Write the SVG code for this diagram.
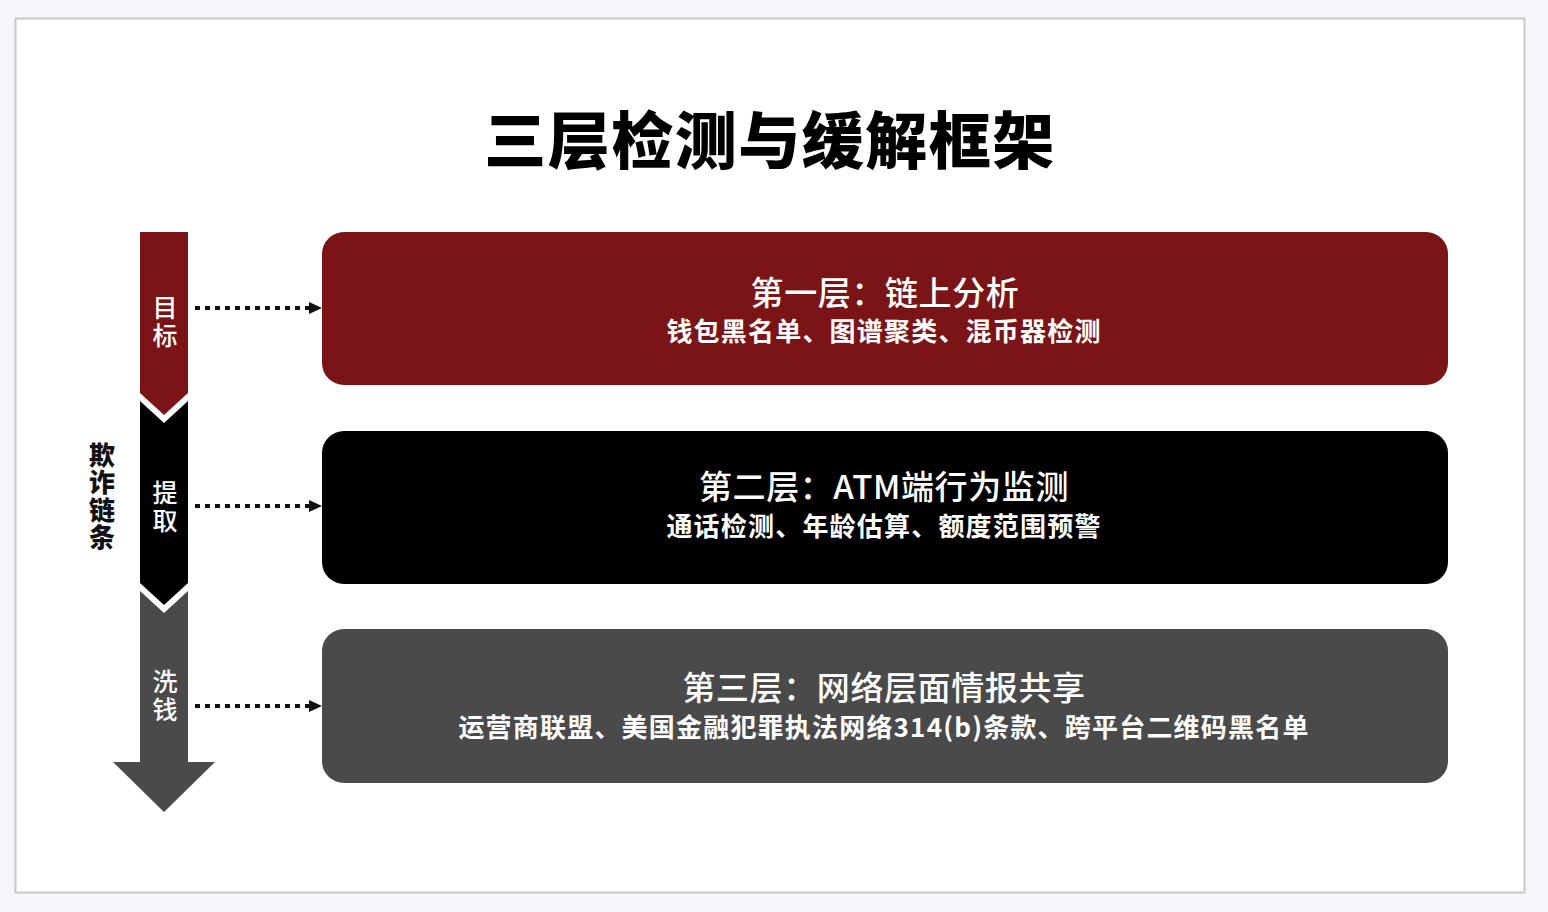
<svg xmlns="http://www.w3.org/2000/svg" width="1548" height="912" viewBox="0 0 1548 912">
  <defs>
    <style>
      .cjk { font-family: "Noto Sans CJK SC", "Noto Sans", "Liberation Sans", sans-serif; }
      .title { font-size: 62px; font-weight: 900; fill: #000; letter-spacing: 1.5px; }
      .head { font-size: 33px; font-weight: 500; fill: #fff; letter-spacing: 0.6px; }
      .sub { font-size: 26px; font-weight: 700; fill: #fff; letter-spacing: 1.2px; }
      .vert { writing-mode: vertical-rl; text-orientation: upright; }
      .stage { font-size: 25px; font-weight: 500; fill: #fff; letter-spacing: 3px; }
      .side { font-size: 26px; font-weight: 900; fill: #111; letter-spacing: 1.5px; }
      .dots { stroke: #111; stroke-width: 4; stroke-dasharray: 5 5; fill: none; }
    </style>
    <marker id="ah" markerUnits="userSpaceOnUse" markerWidth="13" markerHeight="12" refX="0" refY="6" orient="auto">
      <path d="M0,0 L13,6 L0,12 z" fill="#111"/>
    </marker>
  </defs>

  <rect x="0" y="0" width="1548" height="912" fill="#f5f6fa"/>
  <rect x="15.5" y="18.5" width="1509" height="874" fill="#ffffff" stroke="#c8c8c8" stroke-width="2"/>

  <text class="cjk title" x="770" y="137" text-anchor="middle" dominant-baseline="central">三层检测与缓解框架</text>

  <g id="chain">
    <text class="cjk side vert" x="102" y="497" text-anchor="middle">欺诈链条</text>
  </g>

  <g id="stage-launder">
    <polygon points="140,591 164,613 188,591 188,762 215,762 164,812 113,762 140,762" fill="#4a4a4a"/>
    <text class="cjk stage vert" x="165" y="697" text-anchor="middle">洗钱</text>
  </g>
  <g id="stage-extract">
    <polygon points="140,401 164,423 188,401 188,583 164,605 140,583" fill="#000000"/>
    <text class="cjk stage vert" x="165" y="508" text-anchor="middle">提取</text>
  </g>
  <g id="stage-target">
    <polygon points="140,232 188,232 188,393 164,415 140,393" fill="#7b1416"/>
    <text class="cjk stage vert" x="165" y="323" text-anchor="middle">目标</text>
  </g>

  <g id="connectors">
    <line class="dots" x1="195" y1="308" x2="309" y2="308" marker-end="url(#ah)"/>
    <line class="dots" x1="195" y1="506" x2="309" y2="506" marker-end="url(#ah)"/>
    <line class="dots" x1="195" y1="706" x2="309" y2="706" marker-end="url(#ah)"/>
  </g>

  <g id="layer1">
    <rect x="322" y="232" width="1126" height="153" rx="22" fill="#7b1416"/>
    <text class="cjk head" x="885" y="291" text-anchor="middle" dominant-baseline="central">第一层：链上分析</text>
    <text class="cjk sub" x="884" y="329" text-anchor="middle" dominant-baseline="central">钱包黑名单、图谱聚类、混币器检测</text>
  </g>
  <g id="layer2">
    <rect x="322" y="431" width="1126" height="153" rx="22" fill="#000000"/>
    <text class="cjk head" x="884" y="485" text-anchor="middle" dominant-baseline="central">第二层：ATM端行为监测</text>
    <text class="cjk sub" x="884" y="524" text-anchor="middle" dominant-baseline="central">通话检测、年龄估算、额度范围预警</text>
  </g>
  <g id="layer3">
    <rect x="322" y="629" width="1126" height="154" rx="22" fill="#4a4a4a"/>
    <text class="cjk head" x="884" y="686" text-anchor="middle" dominant-baseline="central">第三层：网络层面情报共享</text>
    <text class="cjk sub" x="884" y="725" text-anchor="middle" dominant-baseline="central">运营商联盟、美国金融犯罪执法网络314(b)条款、跨平台二维码黑名单</text>
  </g>
</svg>
